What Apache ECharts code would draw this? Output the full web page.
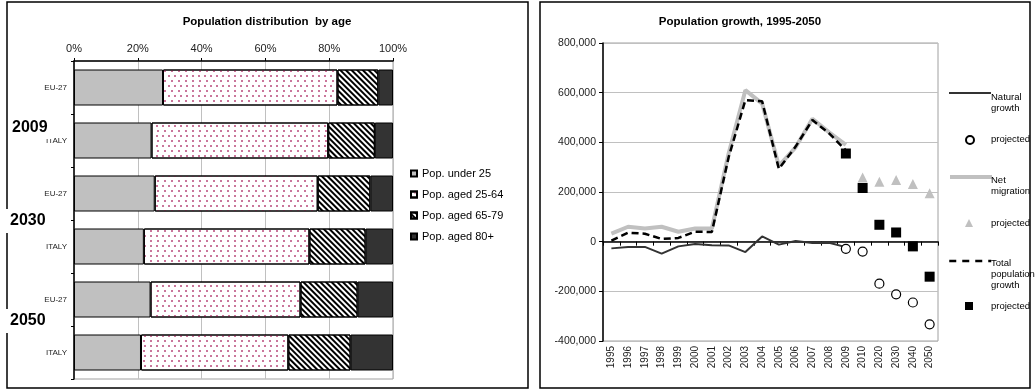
<!DOCTYPE html>
<html><head><meta charset="utf-8">
<script src="https://cdn.jsdelivr.net/npm/echarts@6/dist/echarts.min.js"></script>
<style>html,body{margin:0;padding:0;background:#fff}#c{width:1035px;height:390px}</style>
</head><body><div id="c"></div>
<script>
// ---- Left chart data (percent shares) ----
const ageCategories = ['EU-27', 'ITALY', 'EU-27', 'ITALY', 'EU-27', 'ITALY'];
const groupLabels = ['2009', '2030', '2050'];
const under25   = [27.9, 24.3, 25.3, 21.9, 24.0, 21.0];
const aged25_64 = [54.7, 55.4, 51.1, 51.9, 47.0, 46.2];
const aged65_79 = [12.8, 14.6, 16.5, 17.6, 17.9, 19.5];
const aged80    = [4.6, 5.7, 7.1, 8.6, 11.1, 13.3];

// ---- Right chart data ----
const years = ['1995','1996','1997','1998','1999','2000','2001','2002','2003','2004','2005','2006','2007','2008','2009','2010','2020','2030','2040','2050'];
const naturalGrowth      = [-27000,-21000,-21000,-48000,-19000,-9000,-14000,-15000,-42000,21000,-12000,3000,-5000,-4000,-22000,'-','-','-','-','-'];
const naturalProjected   = ['-','-','-','-','-','-','-','-','-','-','-','-','-','-',-29000,-40000,-169000,-212000,-245000,-333000];
const netMigration       = [32000,60000,53000,60000,40000,53000,53000,355000,610000,556000,305000,380000,495000,440000,390000,'-','-','-','-','-'];
const migrationProjected = ['-','-','-','-','-','-','-','-','-','-','-','-','-','-','-',258000,241000,248000,232000,195000];
const totalGrowth        = [4000,36000,32000,11000,15000,40000,39000,340000,570000,565000,293000,383000,490000,436000,368000,'-','-','-','-','-'];
const totalProjected     = ['-','-','-','-','-','-','-','-','-','-','-','-','-','-',355000,216000,68000,37000,-19000,-141000];

const FONT = 'Liberation Sans, Arial, sans-serif';
const chart = echarts.init(document.getElementById('c'));
const bBorder = { borderColor: '#000', borderWidth: 1 };

function txt(x, y, text, opt) {
  return Object.assign({ type: 'text', x: x, y: y, z: 100,
    style: Object.assign({ text: text, fill: '#000', font: '9.5px ' + FONT, textVerticalAlign: 'middle' }, opt || {}) });
}
const noText = () => '';

const option = {
  animation: false,
  textStyle: { fontFamily: FONT },
  grid: [
    { left: 74, top: 61, width: 319, height: 318, show: true, borderColor: '#a0a0a0', borderWidth: 1 },
    { left: 603, top: 43, width: 335, height: 298, show: true, borderColor: '#a0a0a0', borderWidth: 1 }
  ],
  xAxis: [
    { gridIndex: 0, type: 'value', position: 'top', min: 0, max: 100, interval: 20,
      axisLine: { show: true, lineStyle: { color: '#000', width: 1.5 } },
      axisTick: { show: true, length: 3, lineStyle: { color: '#000' } },
      axisLabel: { formatter: '{value}%', fontSize: 11, color: '#222', margin: 7 },
      splitLine: { show: true, lineStyle: { color: '#c0c0c0', width: 1 } } },
    { gridIndex: 1, type: 'category', data: years, position: 'bottom',
      axisLine: { onZero: false, show: false }, axisTick: { show: false },
      axisLabel: { rotate: 90, fontSize: 10, color: '#222', margin: 5, interval: 0 },
      splitLine: { show: false } },
    { gridIndex: 1, type: 'category', data: years, position: 'bottom',
      axisLine: { onZero: true, show: true, lineStyle: { color: '#000', width: 1.5 } },
      axisTick: { show: true, length: 4, interval: 0, lineStyle: { color: '#000' } },
      axisLabel: { show: false }, splitLine: { show: false } }
  ],
  yAxis: [
    { gridIndex: 0, type: 'category', data: ageCategories, inverse: true,
      axisLine: { show: true, lineStyle: { color: '#000', width: 1.5 } },
      axisTick: { show: true, length: 3, lineStyle: { color: '#000' } },
      axisLabel: { fontSize: 8, color: '#222', margin: 7 } },
    { gridIndex: 1, type: 'value', min: -400000, max: 800000, interval: 200000,
      axisLine: { show: true, lineStyle: { color: '#000', width: 1.5 } },
      axisTick: { show: true, length: 4, lineStyle: { color: '#000' } },
      axisLabel: { fontSize: 10.5, color: '#222', margin: 7, formatter: v => v.toLocaleString('en-US') },
      splitLine: { show: true, lineStyle: { color: '#c0c0c0', width: 1 } } }
  ],
  legend: [
    { data: ['Pop. under 25', 'Pop. aged 25-64', 'Pop. aged 65-79', 'Pop. aged 80+'],
      orient: 'vertical', left: 410, top: 168, itemWidth: 6, itemHeight: 6, itemGap: 10, icon: 'rect',
      padding: 0, textStyle: { fontSize: 11, color: '#000' } },
    { data: ['Natural growth'], left: 948, top: 88, itemWidth: 42, itemHeight: 10, padding: 0, formatter: noText,
      itemStyle: { opacity: 0 }, lineStyle: { color: '#333333', width: 2 } },
    { data: ['projected natural'], left: 965, top: 135, itemWidth: 8, itemHeight: 8, padding: 0, formatter: noText },
    { data: ['Net migration'], left: 948, top: 172, itemWidth: 42, itemHeight: 10, padding: 0, formatter: noText,
      itemStyle: { opacity: 0 }, lineStyle: { color: '#c0c0c0', width: 4 } },
    { data: ['projected migration'], left: 965, top: 219, itemWidth: 8, itemHeight: 8, padding: 0, formatter: noText },
    { data: ['Total population growth'], left: 948, top: 256, itemWidth: 42, itemHeight: 10, padding: 0, formatter: noText,
      itemStyle: { opacity: 0 }, lineStyle: { color: '#000', width: 2.5, type: [7, 6] } },
    { data: ['projected total'], left: 965, top: 302, itemWidth: 8, itemHeight: 8, padding: 0, formatter: noText }
  ],
  series: [
    { type: 'bar', name: 'Pop. under 25', xAxisIndex: 0, yAxisIndex: 0, stack: 'age', barWidth: 36, data: under25,
      itemStyle: Object.assign({ color: '#c0c0c0' }, bBorder) },
    { type: 'bar', name: 'Pop. aged 25-64', xAxisIndex: 0, yAxisIndex: 0, stack: 'age', barWidth: 36, data: aged25_64,
      itemStyle: Object.assign({ color: '#ffffff', decal: { symbol: 'circle', color: '#b8487a', symbolSize: 1,
        dashArrayX: [[1.4, 3.6], [0, 2.5, 1.4, 1.1]], dashArrayY: [1.4, 2.3] } }, bBorder) },
    { type: 'bar', name: 'Pop. aged 65-79', xAxisIndex: 0, yAxisIndex: 0, stack: 'age', barWidth: 36, data: aged65_79,
      itemStyle: Object.assign({ color: '#ffffff', decal: { symbol: 'rect', color: '#000', symbolSize: 1,
        dashArrayX: [1, 0], dashArrayY: [1.6, 1.6], rotation: Math.PI / 4 } }, bBorder) },
    { type: 'bar', name: 'Pop. aged 80+', xAxisIndex: 0, yAxisIndex: 0, stack: 'age', barWidth: 36, data: aged80,
      itemStyle: Object.assign({ color: '#333333' }, bBorder) },

    { type: 'line', name: 'Net migration', xAxisIndex: 1, yAxisIndex: 1, data: netMigration, symbol: 'none', z: 2,
      lineStyle: { color: '#c0c0c0', width: 4 }, itemStyle: { color: '#c0c0c0' } },
    { type: 'line', name: 'Natural growth', xAxisIndex: 1, yAxisIndex: 1, data: naturalGrowth, symbol: 'none', z: 3,
      lineStyle: { color: '#333333', width: 2 }, itemStyle: { color: '#333333' } },
    { type: 'line', name: 'Total population growth', xAxisIndex: 1, yAxisIndex: 1, data: totalGrowth, symbol: 'none', z: 4,
      lineStyle: { color: '#000', width: 2.5, type: [7, 4] }, itemStyle: { color: '#000' } },
    { type: 'scatter', name: 'projected natural', xAxisIndex: 1, yAxisIndex: 1, data: naturalProjected, symbol: 'circle', symbolSize: 9, z: 5,
      itemStyle: { color: '#fff', borderColor: '#000', borderWidth: 1.2, opacity: 1 } },
    { type: 'scatter', name: 'projected migration', xAxisIndex: 1, yAxisIndex: 1, data: migrationProjected, symbol: 'triangle', symbolSize: 10, z: 5,
      itemStyle: { color: '#c0c0c0', opacity: 1 } },
    { type: 'scatter', name: 'projected total', xAxisIndex: 1, yAxisIndex: 1, data: totalProjected, symbol: 'rect', symbolSize: 10, z: 6,
      itemStyle: { color: '#000', opacity: 1 } }
  ],
  graphic: [
    { type: 'rect', z: 90, shape: { x: 7, y: 2, width: 521, height: 386 }, style: { fill: 'none', stroke: '#000', lineWidth: 1.5 } },
    { type: 'rect', z: 90, shape: { x: 540, y: 2, width: 490, height: 386 }, style: { fill: 'none', stroke: '#000', lineWidth: 1.5 } },
    txt(267, 22, 'Population distribution  by age', { font: 'bold 11.5px ' + FONT, textAlign: 'center' }),
    txt(740, 22, 'Population growth, 1995-2050', { font: 'bold 11.5px ' + FONT, textAlign: 'center' }),
    { type: 'rect', z: 95, shape: { x: 12, y: 117, width: 42, height: 22 }, style: { fill: '#fff' } },
    { type: 'rect', z: 95, shape: { x: 3, y: 209, width: 46, height: 24 }, style: { fill: '#fff' } },
    { type: 'rect', z: 95, shape: { x: 3, y: 309, width: 46, height: 24 }, style: { fill: '#fff' } },
    txt(12, 128, groupLabels[0], { font: 'bold 16px ' + FONT }),
    txt(10, 221, groupLabels[1], { font: 'bold 16px ' + FONT }),
    txt(10, 321, groupLabels[2], { font: 'bold 16px ' + FONT }),
    txt(991, 97, 'Natural'), txt(991, 108, 'growth'),
    txt(991, 139, 'projected'),
    txt(991, 180, 'Net'), txt(991, 191, 'migration'),
    txt(991, 223, 'projected'),
    txt(991, 263, 'Total'), txt(991, 274, 'population'), txt(991, 285, 'growth'),
    txt(991, 306, 'projected')
  ]
};
chart.setOption(option);
</script>
</body></html>
